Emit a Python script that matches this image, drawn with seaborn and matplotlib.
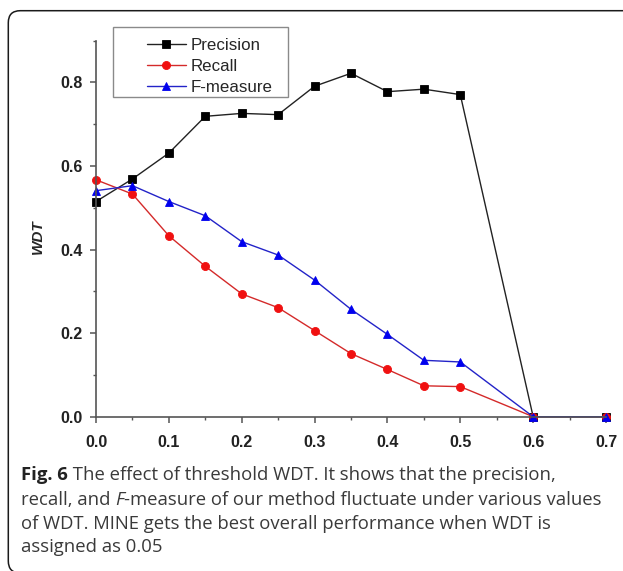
import numpy as np
import pandas as pd
import matplotlib
matplotlib.use("Agg")
import matplotlib.pyplot as plt
import seaborn as sns
from matplotlib.patches import FancyBboxPatch, Rectangle
from matplotlib.transforms import IdentityTransform
from matplotlib.ticker import MultipleLocator

# ---------------- data ----------------
thresholds = [0.0, 0.05, 0.10, 0.15, 0.20, 0.25, 0.30, 0.35, 0.40, 0.45, 0.50, 0.60, 0.70]
precision = [0.515, 0.569, 0.631, 0.719, 0.726, 0.723, 0.791, 0.822, 0.778, 0.784, 0.771, 0.0, 0.0]
recall = [0.567, 0.533, 0.433, 0.360, 0.294, 0.261, 0.206, 0.151, 0.113, 0.074, 0.072, 0.0, 0.0]
fmeasure = [0.541, 0.553, 0.515, 0.481, 0.419, 0.387, 0.327, 0.257, 0.197, 0.135, 0.131, 0.0, 0.0]

series_names = ["Precision", "Recall", "F-measure"]
x_ticks = [0.0, 0.1, 0.2, 0.3, 0.4, 0.5, 0.6, 0.7]
x_tick_labels = ["0.0", "0.1", "0.2", "0.3", "0.4", "0.5", "0.6", "0.7"]
y_ticks = [0.0, 0.2, 0.4, 0.6, 0.8]
y_tick_labels = ["0.0", "0.2", "0.4", "0.6", "0.8"]
y_label = "WDT"
caption_lines = [
    [("Fig. 6", "bold"), (" The effect of threshold WDT. It shows that the precision,", "normal")],
    [("recall, and ", "normal"), ("F", "italic"), ("-measure of our method fluctuate under various values", "normal")],
    [("of WDT. MINE gets the best overall performance when WDT is", "normal")],
    [("assigned as 0.05", "normal")],
]

# ---------------- styling ----------------
line_colors = ["#222222", "#d42a2a", "#2323c8"]
marker_colors = ["#000000", "#f01010", "#0000ee"]
markers = ["s", "o", "^"]
marker_sizes = [5.4, 5.8, 6.2]

W, H = 623, 571
sns.set_style("ticks")
plt.rcParams["font.family"] = ["Liberation Sans", "DejaVu Sans"]

fig = plt.figure(figsize=(W / 100, H / 100), dpi=100)
ax = fig.add_axes([96 / W, 1 - 416.7 / H, (606 - 96) / W, (416.7 - 40.7) / H])

df = pd.DataFrame({"threshold": thresholds, "Precision": precision,
                   "Recall": recall, "F-measure": fmeasure})

for name, lc, mc, mk, ms in zip(series_names, line_colors, marker_colors, markers, marker_sizes):
    sns.lineplot(data=df, x="threshold", y=name, ax=ax, color=lc, marker=mk,
                 markersize=ms, markerfacecolor=mc, markeredgecolor=mc,
                 markeredgewidth=0.6, linewidth=1.0, label=name, clip_on=False)

ax.set_xlim(0, 0.7)
ax.set_ylim(0, 0.9)
ax.set_xticks(x_ticks)
ax.set_xticklabels(x_tick_labels)
ax.set_yticks(y_ticks)
ax.set_yticklabels(y_tick_labels)
ax.xaxis.set_minor_locator(MultipleLocator(0.05))
ax.yaxis.set_minor_locator(MultipleLocator(0.1))
ax.set_xlabel("")
ax.set_ylabel(y_label, fontsize=11, fontweight="bold", fontstyle="italic", va="center")
ax.yaxis.set_label_coords((38 - 96) / 510, (416.7 - 237) / 376)

sns.despine(ax=ax)
for s in ["left", "bottom"]:
    ax.spines[s].set_color("#555555")
    ax.spines[s].set_linewidth(1.2)
ax.tick_params(axis="both", which="major", direction="out", length=4.5, width=1.1,
               color="#555555", labelsize=11.5)
ax.tick_params(axis="both", which="minor", direction="out", length=2.3, width=1.0,
               color="#555555")
ax.tick_params(axis="x", which="major", pad=9)
ax.tick_params(axis="y", which="major", pad=5)
for lab in ax.get_xticklabels() + ax.get_yticklabels():
    lab.set_fontweight("bold")
    lab.set_color("#222222")

# legend
handles, labels = ax.get_legend_handles_labels()
if ax.legend_:
    ax.legend_.remove()
fig.add_artist(Rectangle((113, H - 96.7), 175, 70, transform=IdentityTransform(),
                         facecolor="white", edgecolor="#8a8a8a", linewidth=1.0, zorder=4))
leg = fig.legend(handles, labels, loc="upper left",
                 bbox_to_anchor=(146.7 / W, 1 - 37.5 / H), bbox_transform=fig.transFigure,
                 frameon=False, borderpad=0, borderaxespad=0, fontsize=12.2,
                 handlelength=2.3, handletextpad=0.3, labelspacing=0.36, numpoints=1)
leg.set_zorder(5)

# outer rounded border
fig.add_artist(FancyBboxPatch((8.3, -2.0), 700, H - 10.7 + 2.0,
                              boxstyle="round,pad=0,rounding_size=12",
                              transform=IdentityTransform(), facecolor="none",
                              edgecolor="#1a1a1a", linewidth=1.1, zorder=6))

# caption
renderer = fig.canvas.get_renderer()
baselines = [480, 505, 529, 552]
for segs, yb in zip(caption_lines, baselines):
    x = 20.7
    for text, style in segs:
        kw = dict(fontsize=13.3, color="#3a3a3a", family=["Open Sans", "DejaVu Sans"],
                  va="baseline", ha="left")
        if style == "bold":
            kw["fontweight"] = "bold"
            kw["color"] = "#222222"
        elif style == "italic":
            kw["fontstyle"] = "italic"
        t = fig.text(x / W, 1 - yb / H, text, **kw)
        x += t.get_window_extent(renderer=renderer).width

fig.savefig("out.png", dpi=100)
